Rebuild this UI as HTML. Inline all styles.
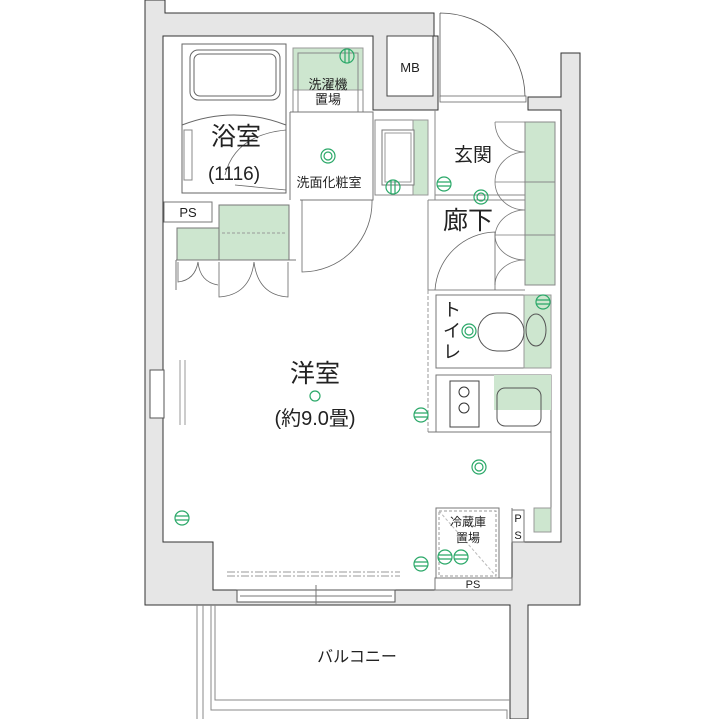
<!DOCTYPE html>
<html><head><meta charset="utf-8"><style>
html,body{margin:0;padding:0;background:#fff}
svg{display:block}
text{font-family:"Liberation Sans","Noto Sans CJK JP",sans-serif;fill:#222}
</style></head><body>
<svg width="721" height="719" viewBox="0 0 721 719" xmlns="http://www.w3.org/2000/svg">
<g stroke="#333" stroke-width="1" fill="#e6e6e6">
<!-- left + top + bottom walls -->
<path d="M145,0 H165 V13 H434 V36 H438 V110 H373 V36 H163 V542 H213 V590 H237 V600 H395 V590 H512 V542 H561 V110 H528 V97 H561 V53 H580 V605 H528 V719 H510 V605 H145 Z"/>
</g>
<!-- MB -->
<rect x="387" y="36" width="46" height="60" fill="#fff" stroke="#444"/>
<text x="410" y="72" font-size="13" text-anchor="middle">MB</text>
<!-- entry door -->
<path d="M440,13 V97 H525 A85,84 0 0 0 440,13" fill="none" stroke="#555" stroke-width="0.8"/>
<rect x="440" y="96" width="86" height="6" fill="#fff" stroke="#666" stroke-width="0.8"/>
<!-- bathroom -->
<rect x="182" y="44" width="104" height="149" fill="#fff" stroke="#666"/>
<rect x="190" y="50" width="90" height="50" rx="8" fill="#fff" stroke="#666"/>
<rect x="194" y="54" width="82" height="42" rx="6" fill="#fff" stroke="#666"/>
<path d="M182,125 Q234,105 286,125" fill="none" stroke="#666"/>
<path d="M286,130 Q235,135 225,175 M286,190 L235,185" fill="none" stroke="#666" stroke-width="0.8"/>
<rect x="184" y="130" width="8" height="50" fill="#fff" stroke="#888"/>
<text x="236" y="145" font-size="25" text-anchor="middle">浴室</text>
<text x="234" y="180" font-size="19" text-anchor="middle">(1116)</text>
<!-- washer -->
<rect x="293" y="48" width="70" height="64" fill="#fff" stroke="#888"/>
<rect x="293" y="48" width="70" height="42" fill="#cde6cf" stroke="#999"/>
<rect x="298" y="53" width="60" height="59" fill="none" stroke="#888"/>
<text x="328" y="89" font-size="13" text-anchor="middle">洗濯機</text>
<text x="328" y="104" font-size="13" text-anchor="middle">置場</text>
<path d="M290,112 H373 V200 H300 M290,112 V200" fill="none" stroke="#777"/>
<text x="329" y="187" font-size="13" text-anchor="middle">洗面化粧室</text>
<path d="M302,200 V272 A70,70 0 0 0 372,200" fill="none" stroke="#666" stroke-width="0.8"/>
<!-- vanity -->
<rect x="375" y="120" width="53" height="75" fill="#fff" stroke="#888"/>
<rect x="413" y="120" width="15" height="75" fill="#cde6cf" stroke="#999"/>
<rect x="382" y="130" width="32" height="55" fill="#fff" stroke="#777"/>
<rect x="385" y="133" width="26" height="49" fill="#fff" stroke="#999"/>
<!-- genkan / corridor -->
<path d="M435,110 V200 M428,200 H525 M435,195 H525 M428,200 V290 H525" fill="none" stroke="#888"/>
<text x="473" y="161" font-size="19" text-anchor="middle">玄関</text>
<text x="468" y="229" font-size="25" text-anchor="middle">廊下</text>
<rect x="525" y="122" width="30" height="163" fill="#cde6cf" stroke="#888"/>
<path d="M525,182 H555 M525,235 H555" stroke="#888"/>
<path d="M495,122 H525 M495,122 A30,30 0 0 0 525,152 M525,152 A30,30 0 0 0 495,182 H525 M495,182 A30,28 0 0 0 525,210 A30,28 0 0 0 495,235 H525 M495,235 A30,25 0 0 0 525,260 A30,25 0 0 0 495,285" fill="none" stroke="#777" stroke-width="0.8"/>
<path d="M495,232 A62,62 0 0 0 435,290 M495,232 V290" fill="none" stroke="#666" stroke-width="0.8"/>
<!-- PS + closet -->
<rect x="164" y="202" width="48" height="20" fill="#fff" stroke="#777"/>
<text x="188" y="217" font-size="13" text-anchor="middle">PS</text>
<rect x="177" y="228" width="42" height="32" fill="#cde6cf" stroke="#777"/>
<rect x="219" y="205" width="70" height="55" fill="#cde6cf" stroke="#777"/>
<path d="M222,233 H287" stroke="#999" stroke-dasharray="3,2"/>
<path d="M176,260 H296 M176,260 V290" fill="none" stroke="#777"/>
<path d="M178,262 V282 Q195,280 198,262 Q200,282 218,285 M219,262 V297 Q250,295 254,262 Q258,295 288,297 V262" fill="none" stroke="#666" stroke-width="0.8"/>
<!-- main room -->
<text x="315" y="382" font-size="25" text-anchor="middle">洋室</text>
<text x="315" y="425" font-size="20" text-anchor="middle">(約9.0畳)</text>
<path d="M428,290 V432" stroke="#999" stroke-dasharray="4,2"/>
<path d="M180,360 V425 M185,360 V425" stroke="#999"/>
<rect x="150" y="370" width="14" height="48" fill="#fff" stroke="#555"/>
<path d="M227,572 H400 M227,576 H400" stroke="#999" stroke-dasharray="8,2,2,2"/>
<rect x="237" y="590" width="158" height="12" fill="#fff" stroke="#555"/>
<path d="M240,596 H392 M316,585 V605" stroke="#777"/>
<!-- toilet -->
<rect x="436" y="295" width="115" height="73" fill="#fff" stroke="#777"/>
<rect x="524" y="295" width="27" height="73" fill="#cde6cf" stroke="#999"/>
<rect x="478" y="313" width="46" height="38" rx="19" fill="#fff" stroke="#555"/>
<ellipse cx="536" cy="330" rx="10" ry="16" fill="#cde6cf" stroke="#555"/>
<text x="452" y="316" font-size="18" text-anchor="middle">ト</text>
<text x="452" y="337" font-size="18" text-anchor="middle">イ</text>
<text x="452" y="358" font-size="18" text-anchor="middle">レ</text>
<!-- kitchen -->
<rect x="436" y="375" width="115" height="57" fill="#fff" stroke="#777"/>
<rect x="494" y="375" width="57" height="35" fill="#cde6cf"/>
<rect x="497" y="388" width="44" height="38" rx="8" fill="none" stroke="#555"/>
<rect x="450" y="381" width="29" height="46" fill="#fff" stroke="#444"/>
<circle cx="464" cy="392" r="5" fill="none" stroke="#333"/><circle cx="464" cy="408" r="5" fill="none" stroke="#333"/>
<path d="M428,432 H551 V508 M512,508 V542" fill="none" stroke="#777"/>
<!-- fridge -->
<rect x="436" y="508" width="63" height="70" fill="#fff" stroke="#777"/>
<rect x="439" y="511" width="57" height="65" fill="none" stroke="#999" stroke-dasharray="3,2"/>
<path d="M439,511 L496,576" stroke="#bbb" stroke-dasharray="3,2"/>
<text x="468" y="526" font-size="12" text-anchor="middle">冷蔵庫</text>
<text x="468" y="542" font-size="12" text-anchor="middle">置場</text>
<rect x="512" y="510" width="12" height="32" fill="#fff" stroke="#777"/>
<text x="518" y="522" font-size="11" text-anchor="middle">P</text>
<text x="518" y="539" font-size="11" text-anchor="middle">S</text>
<rect x="534" y="508" width="17" height="24" fill="#cde6cf" stroke="#999"/>
<rect x="435" y="578" width="77" height="12" fill="#fff" stroke="#777"/>
<text x="473" y="588" font-size="11" text-anchor="middle">PS</text>
<!-- balcony -->
<path d="M197,605 V719 M203,605 V719 M211,605 V710 H507 V719 M215,605 V700 H510" fill="none" stroke="#888"/>
<text x="357" y="662" font-size="16" text-anchor="middle">バルコニー</text>
<!-- outlets -->
<g fill="none" stroke="#2aa868" stroke-width="1.2">
<circle cx="347" cy="56" r="7"/><path d="M345,49 V63 M349,49 V63"/>
<circle cx="328" cy="156" r="7"/><circle cx="328" cy="156" r="4"/>
<circle cx="393" cy="187" r="7"/><path d="M391,180 V194 M395,180 V194"/>
<circle cx="444" cy="184" r="7"/><path d="M437,182 H451 M437,186 H451"/>
<circle cx="481" cy="197" r="7"/><circle cx="481" cy="197" r="4"/>
<circle cx="543" cy="302" r="7"/><path d="M536,300 H550 M536,304 H550"/>
<circle cx="469" cy="331" r="7"/><circle cx="469" cy="331" r="4"/>
<circle cx="315" cy="396" r="5"/>
<circle cx="421" cy="415" r="7"/><path d="M414,413 H428 M414,417 H428"/>
<circle cx="479" cy="467" r="7"/><circle cx="479" cy="467" r="4"/>
<circle cx="182" cy="518" r="7"/><path d="M175,516 H189 M175,520 H189"/>
<circle cx="421" cy="564" r="7"/><path d="M414,562 H428 M414,566 H428"/>
<circle cx="445" cy="557" r="7"/><path d="M438,555 H452 M438,559 H452"/>
<circle cx="461" cy="557" r="7"/><path d="M454,555 H468 M454,559 H468"/>
</g>
</svg>
</body></html>
